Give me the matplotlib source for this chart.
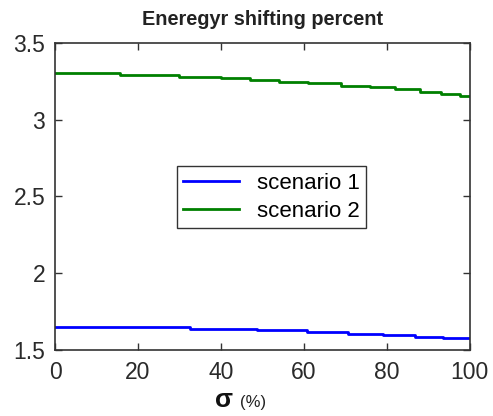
import numpy as np
import matplotlib.pyplot as plt

# step breakpoints (sigma, %) and values
x_s1 = [0, 32.5, 48.7, 60.7, 70.6, 79, 86.7, 93.5, 100]
y_s1 = [1.652, 1.639, 1.628, 1.617, 1.607, 1.596, 1.585, 1.576, 1.576]

x_s2 = [0, 15.7, 30, 40, 47, 54, 61, 69, 76, 82, 88, 93, 97.6, 100]
y_s2 = [3.307, 3.291, 3.280, 3.270, 3.259, 3.248, 3.237, 3.222, 3.211,
        3.198, 3.183, 3.167, 3.152, 3.152]

xticks = [0, 20, 40, 60, 80, 100]
yticks = [1.5, 2, 2.5, 3, 3.5]

plt.rcParams['font.family'] = ['Liberation Sans', 'DejaVu Sans']

fig = plt.figure(figsize=(4.93, 4.16), dpi=100)
ax = fig.add_axes([0.1116, 0.1587, 0.8414, 0.738])

ax.step(x_s1, y_s1, where='post', color='#0000ff', lw=2, label='scenario 1')
ax.step(x_s2, y_s2, where='post', color='#008000', lw=2, label='scenario 2')

ax.set_xlim(0, 100)
ax.set_ylim(1.5, 3.5)
ax.set_xticks(xticks)
ax.set_yticks(yticks)
ax.set_yticklabels(['1.5', '2', '2.5', '3', '3.5'])
ax.tick_params(direction='in', top=True, right=True, length=5, width=1,
               labelsize=16.5, colors='#333333', labelcolor='#2a2a2a')
ax.tick_params(axis='y', pad=7)
ax.tick_params(axis='x', pad=8)
for s in ax.spines.values():
    s.set_color('#333333')
    s.set_linewidth(1.2)

ax.set_title('Eneregyr shifting percent', fontsize=14.3, fontweight='bold',
             color='#222222', pad=13)

fig.text(0.455, 0.022, 'σ', fontsize=19, fontweight='bold', color='#111111',
         ha='center')
fig.text(0.513, 0.022, '(%)', fontsize=12, color='#222222', ha='center')

leg = ax.legend(loc='center', bbox_to_anchor=(0.522, 0.497), fontsize=16,
                fancybox=False, framealpha=1, edgecolor='#333333',
                handlelength=2.5, handletextpad=0.8, borderpad=0.3,
                labelspacing=0.3)
leg.get_frame().set_linewidth(1)

fig.savefig('out.png', dpi=100)
